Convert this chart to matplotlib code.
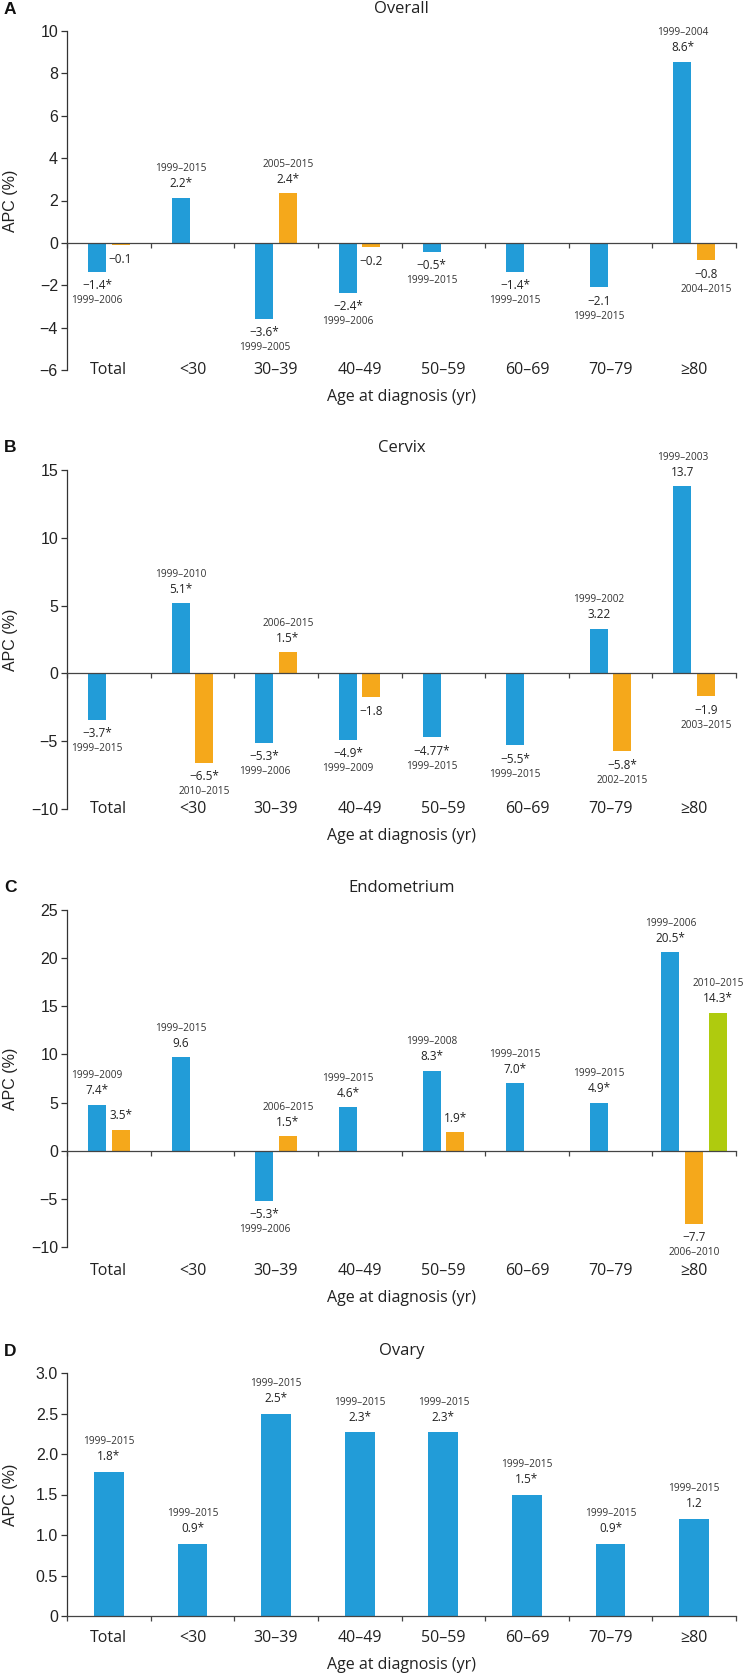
import matplotlib
matplotlib.use("Agg")
import matplotlib.pyplot as plt
import numpy as np

nan = np.nan

categories = ["Total", "<30", "30–39", "40–49", "50–59", "60–69", "70–79", "≥80"]

# A - Overall
a_blue = [-1.37, 2.12, -3.58, -2.36, -0.43, -1.37, -2.10, 8.54]
a_blue_val = ["−1.4*", "2.2*", "−3.6*", "−2.4*", "−0.5*", "−1.4*", "−2.1", "8.6*"]
a_blue_per = ["1999–2006", "1999–2015", "1999–2005", "1999–2006", "1999–2015", "1999–2015", "1999–2015", "1999–2004"]
a_orange = [-0.11, nan, 2.34, -0.20, nan, nan, nan, -0.83]
a_orange_val = ["−0.1", "", "2.4*", "−0.2", "", "", "", "−0.8"]
a_orange_per = ["", "", "2005–2015", "", "", "", "", "2004–2015"]

# B - Cervix
b_blue = [-3.4, 5.16, -5.1, -4.9, -4.7, -5.3, 3.3, 13.8]
b_blue_val = ["−3.7*", "5.1*", "−5.3*", "−4.9*", "−4.77*", "−5.5*", "3.22", "13.7"]
b_blue_per = ["1999–2015", "1999–2010", "1999–2006", "1999–2009", "1999–2015", "1999–2015", "1999–2002", "1999–2003"]
b_orange = [nan, -6.6, 1.57, -1.77, nan, nan, -5.75, -1.67]
b_orange_val = ["", "−6.5*", "1.5*", "−1.8", "", "", "−5.8*", "−1.9"]
b_orange_per = ["", "2010–2015", "2006–2015", "", "", "", "2002–2015", "2003–2015"]

# C - Endometrium
c_blue = [4.78, 9.7, -5.2, 4.5, 8.3, 7.0, 5.0, 20.6]
c_blue_val = ["7.4*", "9.6", "−5.3*", "4.6*", "8.3*", "7.0*", "4.9*", "20.5*"]
c_blue_per = ["1999–2009", "1999–2015", "1999–2006", "1999–2015", "1999–2008", "1999–2015", "1999–2015", "1999–2006"]
c_orange = [2.18, nan, 1.5, nan, 1.9, nan, nan, -7.6]
c_orange_val = ["3.5*", "", "1.5*", "", "1.9*", "", "", "−7.7"]
c_orange_per = ["", "", "2006–2015", "", "", "", "", "2006–2010"]
c_green = [nan, nan, nan, nan, nan, nan, nan, 14.35]
c_green_val = ["", "", "", "", "", "", "", "14.3*"]
c_green_per = ["", "", "", "", "", "", "", "2010–2015"]

# D - Ovary
d_blue = [1.78, 0.89, 2.5, 2.27, 2.27, 1.5, 0.89, 1.2]
d_blue_val = ["1.8*", "0.9*", "2.5*", "2.3*", "2.3*", "1.5*", "0.9*", "1.2"]
d_blue_per = ["1999–2015"] * 8

BLUE = "#229cd8"
ORANGE = "#f5a81b"
GREEN = "#afcb0e"
AXCOL = "#333333"
TXT = "#222222"

FIG_W, FIG_H = 746, 1677
AX_LEFT, AX_RIGHT = 67, 736
SANS = ["Open Sans", "DejaVu Sans"]
ARIAL = ["Liberation Sans", "DejaVu Sans"]


def px(v):
    # pixels -> points at dpi 100
    return v * 0.72


def draw_panel(fig, top, bottom, letter, title, ylim, yticks, ydec, series,
               label_drop, wide=False):
    h = bottom - top
    ax = fig.add_axes([AX_LEFT / FIG_W, 1 - bottom / FIG_H,
                       (AX_RIGHT - AX_LEFT) / FIG_W, h / FIG_H])
    n = len(categories)
    x = np.arange(n)

    counts = np.zeros(n, dtype=int)
    for vals, _, _, _ in series:
        counts += ~np.isnan(np.array(vals, dtype=float))

    width = 0.355 if wide else 0.215
    val_off, per_off = (15, 30) if wide else (14, 29)

    for k, (vals, vlab, plab, color) in enumerate(series):
        vals = np.array(vals, dtype=float)
        if wide:
            offs = np.zeros(n)
        else:
            offs = np.array([[-0.285, 0.0, 0.285][k] if c == 3 else [-0.14, 0.14][min(k, 1)]
                             for c in counts])
        xpos = x + offs
        ax.bar(xpos, vals, width=width, color=color, linewidth=0, zorder=2)
        for xi, v, vl, pl in zip(xpos, vals, vlab, plab):
            if np.isnan(v):
                continue
            s = 1 if v >= 0 else -1
            ax.annotate(vl, (xi, v), xytext=(0, s * px(val_off)), textcoords="offset points",
                        ha="center", va="center", fontsize=8.5, color=TXT, family=SANS)
            if pl:
                ax.annotate(pl, (xi, v), xytext=(0, s * px(per_off)), textcoords="offset points",
                            ha="center", va="center", fontsize=7.3, color="#333333", family=SANS)

    ax.set_xlim(-0.5, n - 0.5)
    ax.set_ylim(*ylim)

    for sp in ["top", "right"]:
        ax.spines[sp].set_visible(False)
    ax.spines["left"].set_color(AXCOL)
    ax.spines["left"].set_linewidth(0.9)
    ax.spines["bottom"].set_position(("data", 0))
    ax.spines["bottom"].set_color("#444444")
    ax.spines["bottom"].set_linewidth(0.9)
    ax.spines["bottom"].set_zorder(3)

    ax.set_xticks(np.arange(n + 1) - 0.5)
    ax.tick_params(axis="x", length=px(5), width=0.9, color="#444444", labelbottom=False)

    if ydec:
        ylabs = ["0" if t == 0 else f"{t:.{ydec}f}" for t in yticks]
    else:
        ylabs = [f"{t:g}".replace("-", "−") for t in yticks]
    ax.set_yticks(yticks, labels=ylabs)
    ax.tick_params(axis="y", length=px(6), width=0.9, color=AXCOL, pad=px(3),
                   labelsize=11.5, labelcolor=TXT)
    for t in ax.get_yticklabels():
        t.set_family(ARIAL)

    for i, cat in enumerate(categories):
        ax.annotate(cat, (i, 0), xycoords=ax.get_xaxis_transform(),
                    xytext=(0, -px(label_drop)), textcoords="offset points",
                    ha="center", va="center", fontsize=11.5, color=TXT, family=SANS)

    ax.set_xlabel("Age at diagnosis (yr)", fontsize=11.5, color=TXT, family=SANS)
    ax.xaxis.set_label_coords(0.5, -(label_drop + 27) / h)
    ax.xaxis.label.set_va("center")

    ax.set_ylabel("APC (%)", fontsize=11.5, color=TXT, family=ARIAL)
    ax.yaxis.set_label_coords(-56 / (AX_RIGHT - AX_LEFT), 0.5)
    ax.yaxis.label.set_va("center")

    ax.annotate(title, (0.5, 1), xycoords="axes fraction", xytext=(0, px(22)),
                textcoords="offset points", ha="center", va="center",
                fontsize=12, color=TXT, family=SANS)
    fig.text(4 / FIG_W, 1 - (top - 22) / FIG_H, letter, fontsize=12.5, fontweight="bold",
             ha="left", va="center", color="#111111", family=ARIAL)
    return ax


fig = plt.figure(figsize=(FIG_W / 100, FIG_H / 100), dpi=100)

draw_panel(fig, 31, 370, "A", "Overall", (-6, 10), np.arange(-6, 11, 2), 0,
           [(a_blue, a_blue_val, a_blue_per, BLUE),
            (a_orange, a_orange_val, a_orange_per, ORANGE)], 0)

draw_panel(fig, 470, 809, "B", "Cervix", (-10, 15), np.arange(-10, 16, 5), 0,
           [(b_blue, b_blue_val, b_blue_per, BLUE),
            (b_orange, b_orange_val, b_orange_per, ORANGE)], 0)

draw_panel(fig, 910, 1247, "C", "Endometrium", (-10, 25), np.arange(-10, 26, 5), 0,
           [(c_blue, c_blue_val, c_blue_per, BLUE),
            (c_orange, c_orange_val, c_orange_per, ORANGE),
            (c_green, c_green_val, c_green_per, GREEN)], 24)

draw_panel(fig, 1373, 1616, "D", "Ovary", (0, 3), np.arange(0, 3.01, 0.5), 1,
           [(d_blue, d_blue_val, d_blue_per, BLUE)], 22, wide=True)

fig.savefig("out.png", dpi=100, facecolor="white")
